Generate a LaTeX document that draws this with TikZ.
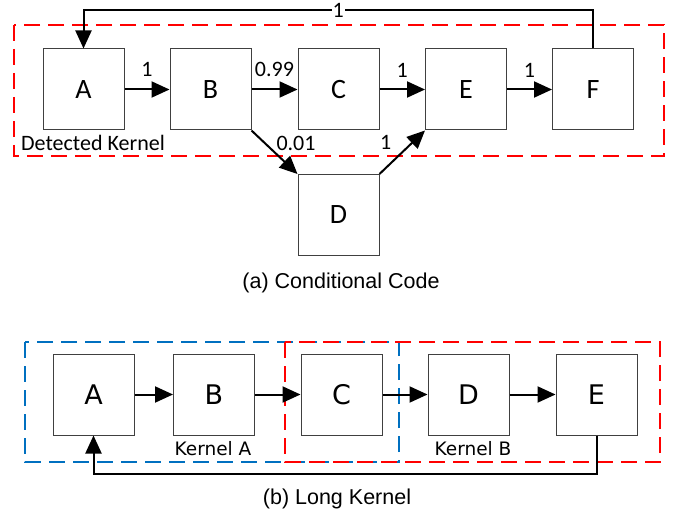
\documentclass[tikz,border=0pt]{standalone}
\usepackage{fontspec}
\setmainfont{Liberation Sans}
\newfontfamily\calibfont{Carlito}
\newfontfamily\dvfont{DejaVu Sans}
\usepackage{tikz}
\usetikzlibrary{arrows.meta,positioning}

\definecolor{kernblue}{RGB}{0,112,192}

\tikzset{
  blk/.style={draw=black!75, line width=1pt, minimum size=81pt, inner sep=0pt},
  topblk/.style={blk, font=\calibfont\fontsize{28}{32}\selectfont},
  botblk/.style={blk, font=\dvfont\fontsize{27}{32}\selectfont},
  arr/.style={line width=2pt, -{Triangle[length=18pt,width=16pt]}},
  lbl/.style={font=\calibfont\fontsize{22}{26}\selectfont, inner sep=2pt},
  kern/.style={line width=2pt, dash pattern=on 16pt off 8pt},
  capt/.style={font=\fontsize{21.5}{25}\selectfont}
}

\begin{document}
\begin{tikzpicture}[x=1pt,y=-1pt]
  \useasboundingbox (0,0) rectangle (675,516);

  %(a) conditional code
  \draw[kern, red] (14,25) rectangle (664,156);
  \node[topblk] (a) at (83.5,89.5) {A};
  \node[topblk] (b) at (210.5,89.5) {B};
  \node[topblk] (c) at (338.5,89.5) {C};
  \node[topblk] (e) at (466,89.5) {E};
  \node[topblk] (f) at (593,89.5) {F};
  \node[topblk] (d) at (338.5,215) {D};

  \draw[arr] (a) -- (b) node[lbl, midway, above, yshift=10pt] {1};
  \draw[arr] (b) -- (c) node[lbl, midway, above, yshift=10pt] {0.99};
  \draw[arr] (c) -- (e) node[lbl, midway, above, yshift=9pt] {1};
  \draw[arr] (e) -- (f) node[lbl, midway, above, yshift=9pt] {1};
  \draw[arr] (b.south east) -- (d.north west)
    node[lbl, midway, anchor=south west, inner sep=1pt] {0.01};
  \draw[arr] (d.north east) -- (e.south west)
    node[lbl, midway, anchor=south east, xshift=-8pt] {1};
  \draw[arr] (f.north) -- ++(0,-38) -| (a.north)
    node[lbl, pos=0.25, fill=white, inner sep=1pt] {1};

  \node[lbl, anchor=west] (dk) at (19,143) {Detected Kernel};
  \node[capt] (capa) at (341,283) {(a) Conditional Code};

  %(b) long kernel
  \draw[kern, kernblue] (25,342) rectangle (399,462);
  \draw[kern, red] (285,342) rectangle (660,462);
  \node[botblk] (a2) at (93.5,394.5) {A};
  \node[botblk] (b2) at (214,394.5) {B};
  \node[botblk] (c2) at (341.5,394.5) {C};
  \node[botblk] (d2) at (468.5,394.5) {D};
  \node[botblk] (e2) at (596.5,394.5) {E};

  \foreach \s/\t in {a2/b2,b2/c2,c2/d2,d2/e2}
    \draw[arr] (\s) -- (\t);
  \draw[arr] (e2.south) -- ++(0,38) -| (a2.south);

  \node[font=\dvfont\fontsize{18.5}{22}\selectfont] (ka) at (213,449) {Kernel A};
  \node[font=\dvfont\fontsize{18.5}{22}\selectfont] (kb) at (473,449) {Kernel B};
  \node[capt] (capb) at (337,499) {(b) Long Kernel};
\end{tikzpicture}
\end{document}
